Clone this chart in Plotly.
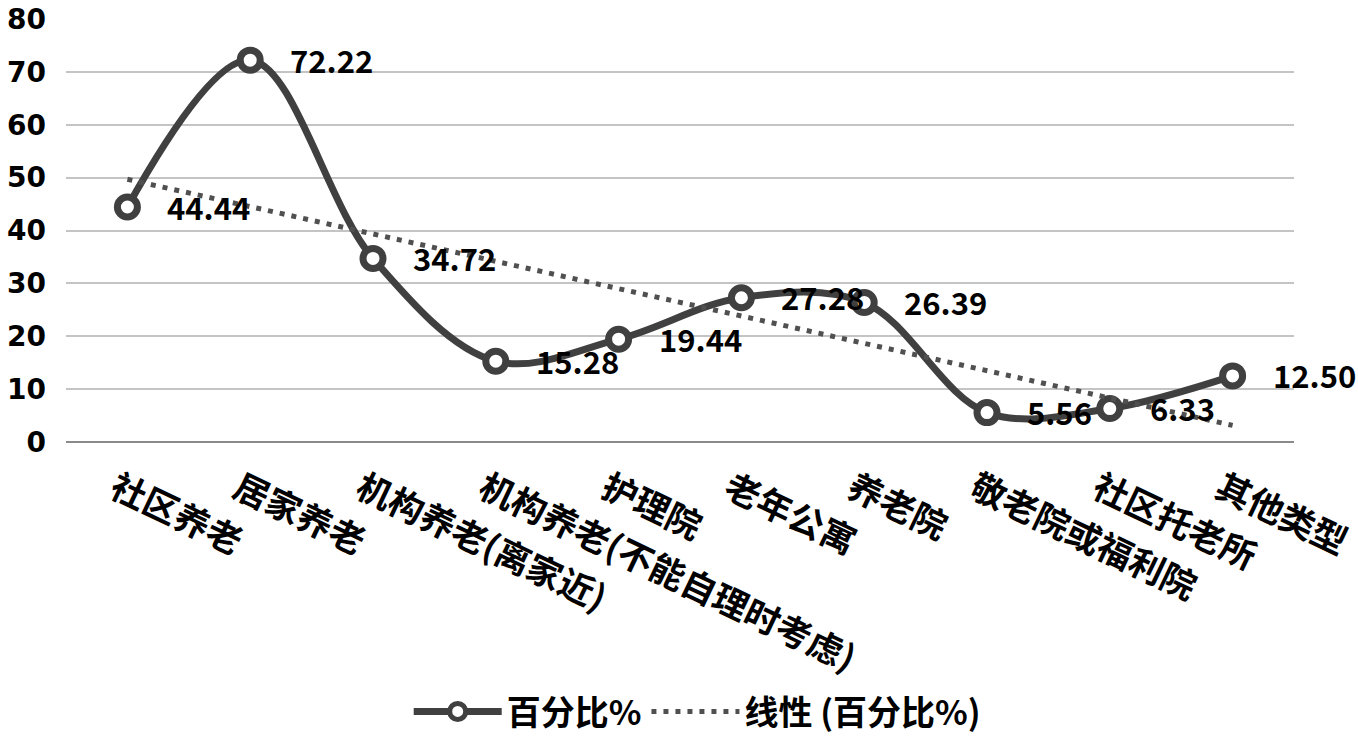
import numpy as np
import plotly.graph_objects as go

categories = ["社区养老", "居家养老", "机构养老(离家近)", "机构养老(不能自理时考虑)", "护理院",
              "老年公寓", "养老院", "敬老院或福利院", "社区托老所", "其他类型"]
percent = [44.44, 72.22, 34.72, 15.28, 19.44, 27.28, 26.39, 5.56, 6.33, 12.50]
value_labels = ["44.44", "72.22", "34.72", "15.28", "19.44", "27.28", "26.39", "5.56", "6.33", "12.50"]
y_ticks = [0, 10, 20, 30, 40, 50, 60, 70, 80]

# linear trend line (like Excel's linear trendline) fitted on the series
idx = np.arange(1, len(percent) + 1)
slope, intercept = np.polyfit(idx, percent, 1)
trend = list(slope * idx + intercept)

CJK = "Noto Sans CJK SC"
LINE = "#404040"

fig = go.Figure()
fig.add_trace(go.Scatter(
    x=categories, y=percent, name="百分比%", mode="lines+markers",
    line=dict(color=LINE, width=7, shape="spline", smoothing=1.0),
    marker=dict(symbol="circle", size=20, color="white", line=dict(color=LINE, width=7)),
))
fig.add_trace(go.Scatter(
    x=categories, y=trend, name="线性 (百分比%)", mode="lines",
    line=dict(color="#505050", width=5, dash="5px,7px"),
))

for c, v, t in zip(categories, percent, value_labels):
    fig.add_annotation(x=c, y=v, text=t, showarrow=False, xanchor="left", yanchor="middle",
                       xshift=38, yshift=1,
                       font=dict(family=CJK, size=31, color="black", weight="bold"))

fig.update_layout(
    width=1358, height=740,
    margin=dict(l=66, r=64, t=19, b=298, autoexpand=False),
    paper_bgcolor="white", plot_bgcolor="white",
    showlegend=True,
    legend=dict(orientation="h", x=0.514, xanchor="center", y=-0.638, yanchor="middle",
                font=dict(family=CJK, size=34, color="black", weight="bold"),
                itemwidth=88, traceorder="normal"),
)
fig.update_xaxes(
    type="category", range=[-0.5, len(categories) - 0.5],
    tickangle=25.5, showgrid=False, showline=False, zeroline=False,
    tickfont=dict(family=CJK, size=35, color="black", weight="bold"),
    ticks="", automargin=False, ticklabelshift=-12, ticklabelstandoff=19,
)
fig.update_yaxes(
    range=[0, 80], tickvals=y_ticks, ticktext=[str(v) for v in y_ticks],
    showgrid=True, gridcolor="#c4c4c4", gridwidth=1.5,
    zeroline=True, zerolinecolor="#8a8a8a", zerolinewidth=2,
    showline=False, ticks="", ticklabelstandoff=19, automargin=False,
    tickfont=dict(family="DejaVu Sans", size=28, color="black", weight="bold"),
)

fig.write_html(
    "out.html",
    config={"displayModeBar": False},
    post_script="document.body.style.margin='0';document.body.style.overflow='hidden';",
)
